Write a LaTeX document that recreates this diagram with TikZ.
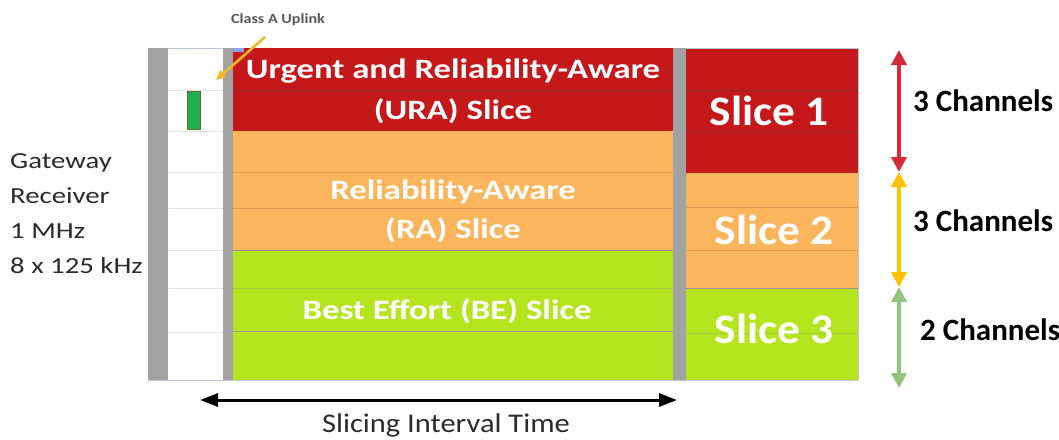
\documentclass[tikz,border=0pt]{standalone}
\usepackage{fontspec}
\usepackage{graphicx}
\setmainfont{Carlito}
\usetikzlibrary{arrows.meta}
\definecolor{ura}{HTML}{C5181B}
\definecolor{ra}{HTML}{FBB55C}
\definecolor{be}{HTML}{B5E51F}
\definecolor{barc}{HTML}{A2A2A2}
\definecolor{gridc}{HTML}{DCE3EA}
\definecolor{edgec}{HTML}{B8C8DC}
\definecolor{gsq}{HTML}{1DB04F}
\definecolor{gold}{HTML}{F2B62A}
\definecolor{redarr}{HTML}{D52A37}
\definecolor{yelarr}{HTML}{FFC000}
\definecolor{grnarr}{HTML}{93C47D}
\definecolor{txtc}{HTML}{2B2B2B}
\newcommand{\hstretch}[2]{\scalebox{#1}[1]{#2}}
\tikzset{
  slicetxt/.style={text=white, font=\bfseries\fontsize{28}{30}\selectfont, inner sep=0pt, anchor=base},
  bigtxt/.style={text=white, font=\bfseries\fontsize{42}{44}\selectfont, inner sep=0pt, anchor=base},
  chtxt/.style={text=black, font=\bfseries\fontsize{31}{33}\selectfont, inner sep=0pt, anchor=base west},
  gwtxt/.style={text=txtc, font=\fontsize{23}{25}\selectfont, inner sep=0pt, anchor=base west},
  rowline/.style={line width=1pt},
  bararrow/.style={line width=4pt, {Triangle[length=15pt,width=15pt]}-{Triangle[length=15pt,width=15pt]}}
}
\begin{document}
\begin{tikzpicture}[x=1pt,y=-1pt]
\useasboundingbox (0,0) rectangle (1059,439);
% white column with grid
\fill[white] (168,48) rectangle (223,380);
\foreach \y in {90,131,172,208,250,288,332}
  \draw[gridc, line width=1pt] (168,\y) -- (223,\y);
\draw[edgec, line width=1pt] (168,48) -- (223,48);
% left slices
\fill[ura] (233,48) rectangle (673,131);
\fill[ra] (233,131) rectangle (673,250);
\fill[be] (233,250) rectangle (673,380);
% right slices
\fill[ura] (686,48) rectangle (858,173);
\fill[ra] (686,173) rectangle (858,288);
\fill[be] (686,288) rectangle (858,380);
% row lines
\draw[rowline, ura!75!black!80!gray] (233,90) -- (673,90) (686,90) -- (858,90) (686,131) -- (858,131);
\draw[rowline, ra!85!black] (233,172) -- (673,172) (233,208) -- (673,208) (686,207) -- (858,207) (686,250) -- (858,250);
\draw[rowline, gray!80!pink] (233,250) -- (673,250) (686,288) -- (858,288);
\draw[rowline, be!70!gray] (233,288) -- (673,288) (686,333) -- (858,333);
\draw[rowline, gray!70!pink] (233,331) -- (673,331);
% gray bars
\fill[barc] (148,48) rectangle (168,380);
\fill[barc] (223,48) rectangle (233,380);
\fill[barc] (673,48) rectangle (686,380);
\fill[edgec!80!blue] (233,48) rectangle (244,52);
\draw[edgec, line width=1pt] (148,380.5) -- (858,380.5);
\draw[edgec, line width=1pt] (686,48) -- (858,48) -- (858,380);
% green uplink
\draw[fill=gsq, draw=olive!70!black, line width=0.8pt] (187,91) rectangle (200,129);
% Class A Uplink
\node[text=black!65, font=\bfseries\fontsize{14}{16}\selectfont, inner sep=0pt, anchor=base] (cl) at (278,23) {\hstretch{1.15}{Class A Uplink}};
\coordinate (ca1) at (265,37);
\coordinate (ca2) at (216,80);
\draw[gold, line width=2.6pt, -{Triangle[length=10pt,width=9pt]}] (ca1) -- (ca2);
% slice texts
\node[slicetxt] (u1) at (453,78) {\hstretch{1.24}{Urgent and Reliability-Aware}};
\node[slicetxt] (u2) at (453,119) {\hstretch{1.24}{(URA) Slice}};
\node[slicetxt] (r1) at (453,199) {\hstretch{1.24}{Reliability-Aware}};
\node[slicetxt] (r2) at (453,238) {\hstretch{1.24}{(RA) Slice}};
\node[slicetxt] (b1) at (447,319) {\hstretch{1.24}{Best Effort (BE) Slice}};
\node[bigtxt] (s1) at (769,125) {\hstretch{1.08}{Slice 1}};
\node[bigtxt] (s2) at (774,244) {\hstretch{1.08}{Slice 2}};
\node[bigtxt] (s3) at (774,343) {\hstretch{1.08}{Slice 3}};
% gateway text
\node[gwtxt] (gw1) at (10,168) {\hstretch{1.25}{Gateway}};
\node[gwtxt] (gw2) at (10,203) {\hstretch{1.25}{Receiver}};
\node[gwtxt] (gw3) at (10,238) {\hstretch{1.25}{1 MHz}};
\node[gwtxt] (gw4) at (10,273) {\hstretch{1.25}{8 x 125 kHz}};
% channel arrows
\coordinate (a0) at (899,50);
\coordinate (a1) at (899,172);
\coordinate (a2) at (899,287);
\coordinate (a3) at (899,388);
\draw[bararrow, redarr] (a0) -- (a1);
\draw[bararrow, yelarr] (a1) -- (a2);
\draw[bararrow, grnarr] (a2) -- (a3);
\node[chtxt] (c1) at (913,111) {3 Channels};
\node[chtxt] (c2) at (913,231) {3 Channels};
\node[chtxt] (c3) at (920,340) {2 Channels};
% slicing interval
\coordinate (t0) at (200,400);
\coordinate (t1) at (677,400);
\draw[black, line width=3pt, {Triangle[length=18pt,width=13pt]}-{Triangle[length=18pt,width=13pt]}] (t0) -- (t1);
\node[text=txtc, font=\fontsize{27}{29}\selectfont, inner sep=0pt, anchor=base] (sit) at (446,432) {\hstretch{1.13}{Slicing Interval Time}};
\end{tikzpicture}
\end{document}
